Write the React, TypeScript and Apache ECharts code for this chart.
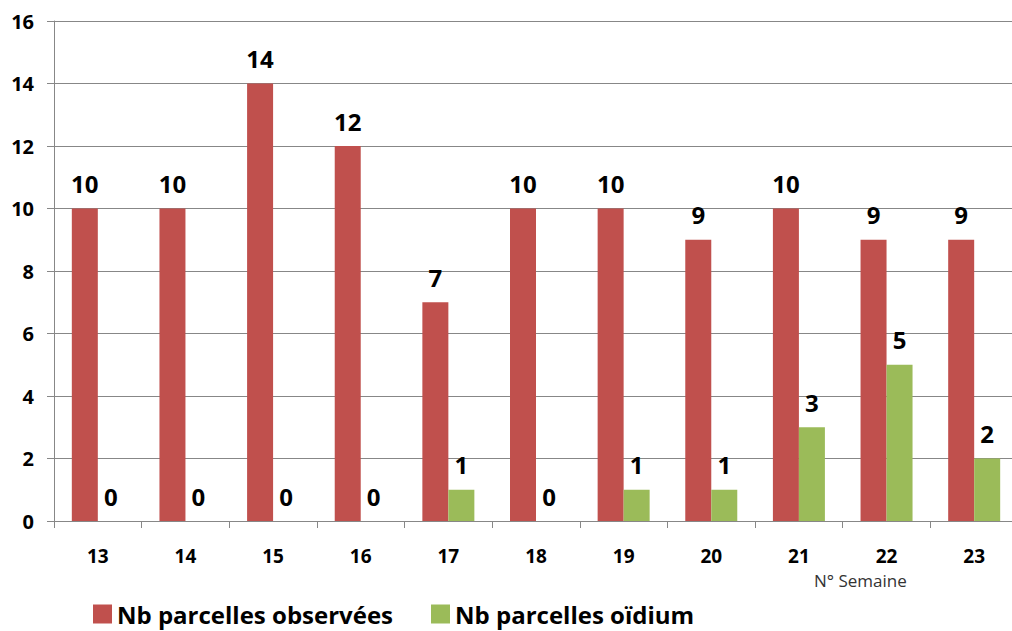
import React, { useEffect, useRef } from "react";
import * as echarts from "echarts";

const weeks = ["13", "14", "15", "16", "17", "18", "19", "20", "21", "22", "23"];
const observed = [10, 10, 14, 12, 7, 10, 10, 9, 10, 9, 9];
const oidium = [0, 0, 0, 0, 1, 0, 1, 1, 3, 5, 2];
const seriesNames = ["Nb parcelles observées", "Nb parcelles oïdium"];
const axisName = "N° Semaine";

const FONT = "'Open Sans', sans-serif";
const AXIS = "#878787";

export default function App() {
  const ref = useRef<HTMLDivElement>(null);
  useEffect(() => {
    if (!ref.current) return;
    const chart = echarts.init(ref.current, undefined, { renderer: "svg" });
    const label = {
      show: true,
      position: "top" as const,
      distance: 13,
      fontSize: 24,
      fontWeight: "bold" as const,
      color: "#000",
      fontFamily: FONT,
    };
    chart.setOption({
      animation: false,
      backgroundColor: "#fff",
      textStyle: { fontFamily: FONT },
      grid: { left: 54, top: 21, bottom: 110, right: 2, containLabel: false },
      legend: {
        left: 93,
        top: 602,
        padding: 0,
        itemWidth: 19,
        itemHeight: 19,
        itemGap: 38,
        icon: "rect",
        textStyle: { fontSize: 24, lineHeight: 24, fontWeight: "bold", color: "#000", fontFamily: FONT },
        data: seriesNames,
      },
      xAxis: {
        type: "category",
        data: weeks,
        axisLine: { lineStyle: { color: AXIS } },
        axisTick: { show: true, length: 7, alignWithLabel: false, lineStyle: { color: AXIS } },
        axisLabel: { fontSize: 19, fontWeight: "bold", color: "#000", margin: 25, fontFamily: FONT },
      },
      yAxis: {
        type: "value",
        min: 0,
        max: 16,
        interval: 2,
        axisLine: { show: true, lineStyle: { color: AXIS } },
        axisTick: { show: true, length: 7, lineStyle: { color: AXIS } },
        splitLine: { lineStyle: { color: AXIS } },
        axisLabel: { fontSize: 20, fontWeight: "bold", color: "#000", margin: 20, fontFamily: FONT },
      },
      graphic: [
        {
          type: "text",
          left: 814,
          top: 572,
          style: { text: axisName, fontSize: 17, fill: "#333", fontFamily: FONT },
        },
      ],
      series: [
        {
          name: seriesNames[0],
          type: "bar",
          data: observed,
          barWidth: 26,
          barGap: "0%",
          itemStyle: { color: "#C0504D" },
          label,
        },
        {
          name: seriesNames[1],
          type: "bar",
          data: oidium,
          barWidth: 26,
          barGap: "0%",
          itemStyle: { color: "#9BBB59" },
          label,
        },
      ],
    });
    return () => chart.dispose();
  }, []);
  return (
    <div style={{ position: "fixed", left: 0, top: 0, width: 1012, height: 631, overflow: "hidden", background: "#fff" }}>
      <div ref={ref} style={{ width: 1020, height: 631 }} />
    </div>
  );
}
